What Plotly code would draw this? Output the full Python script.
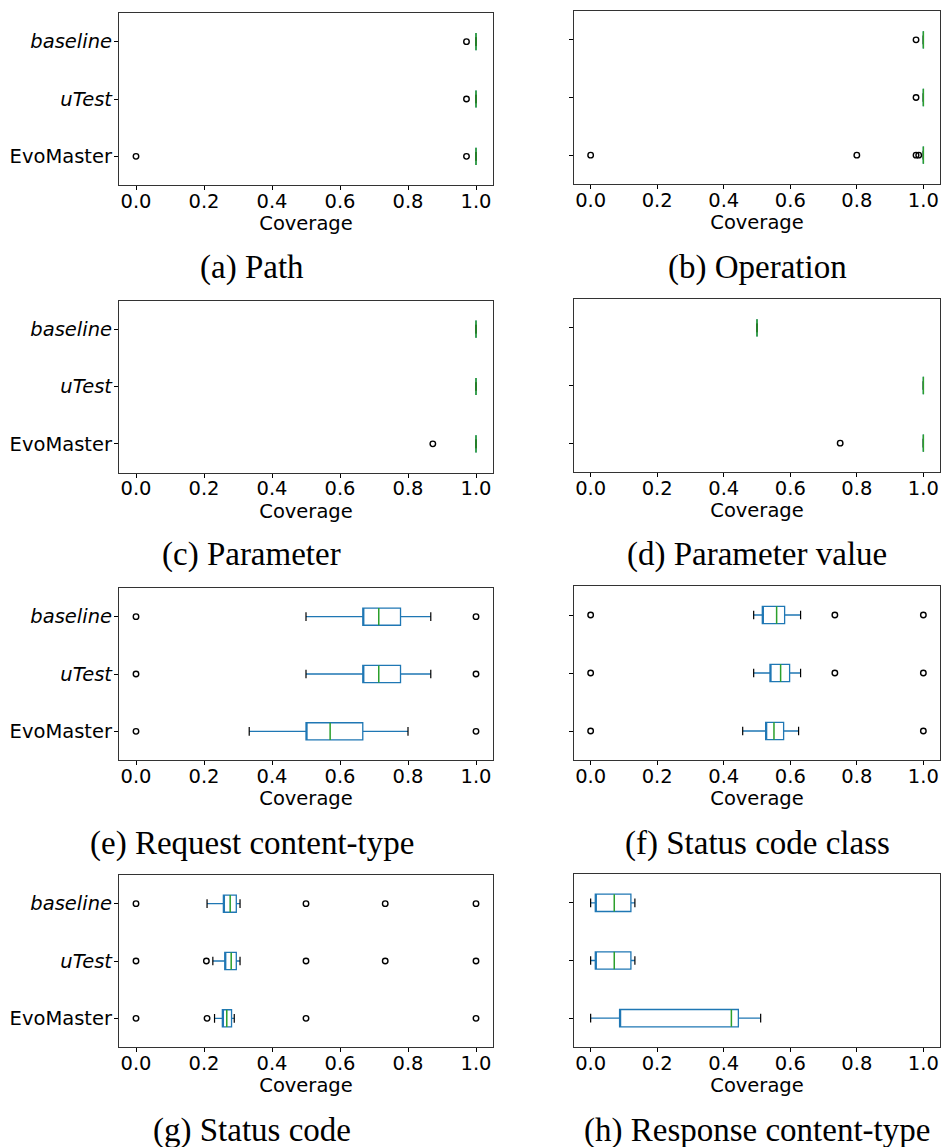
import plotly.graph_objects as go

categories = ["EvoMaster", "uTest", "baseline"]
tick_text = ["EvoMaster", "<i>uTest</i>", "<i>baseline</i>"]
positions = [1, 2, 3]
x_ticks = [0.0, 0.2, 0.4, 0.6, 0.8, 1.0]
x_tick_text = ["0.0", "0.2", "0.4", "0.6", "0.8", "1.0"]

# [low whisker, q1, median, q3, high whisker] for EvoMaster, uTest, baseline
path_box = [[1.0, 1.0, 1.0, 1.0, 1.0], [1.0, 1.0, 1.0, 1.0, 1.0], [1.0, 1.0, 1.0, 1.0, 1.0]]
path_out = [[0.0, 0.972], [0.972], [0.972]]

operation_box = [[1.0, 1.0, 1.0, 1.0, 1.0], [1.0, 1.0, 1.0, 1.0, 1.0], [1.0, 1.0, 1.0, 1.0, 1.0]]
operation_out = [[0.0, 0.80, 0.978, 0.986], [0.978], [0.978]]

parameter_box = [[1.0, 1.0, 1.0, 1.0, 1.0], [1.0, 1.0, 1.0, 1.0, 1.0], [1.0, 1.0, 1.0, 1.0, 1.0]]
parameter_out = [[0.873], [], []]

param_value_box = [[1.0, 1.0, 1.0, 1.0, 1.0], [1.0, 1.0, 1.0, 1.0, 1.0], [0.5, 0.5, 0.5, 0.5, 0.5]]
param_value_out = [[0.75], [], []]

req_ct_box = [[0.333, 0.5, 0.571, 0.667, 0.8],
              [0.5, 0.667, 0.714, 0.778, 0.867],
              [0.5, 0.667, 0.714, 0.778, 0.867]]
req_ct_out = [[0.0, 1.0], [0.0, 1.0], [0.0, 1.0]]

status_class_box = [[0.457, 0.526, 0.551, 0.580, 0.625],
                    [0.490, 0.539, 0.571, 0.598, 0.631],
                    [0.490, 0.516, 0.559, 0.583, 0.631]]
status_class_out = [[0.0, 1.0], [0.0, 0.734, 1.0], [0.0, 0.734, 1.0]]

status_code_box = [[0.231, 0.254, 0.267, 0.281, 0.289],
                   [0.226, 0.261, 0.280, 0.295, 0.306],
                   [0.209, 0.257, 0.277, 0.295, 0.306]]
status_code_out = [[0.0, 0.209, 0.5, 1.0], [0.0, 0.207, 0.5, 0.733, 1.0], [0.0, 0.5, 0.733, 1.0]]

resp_ct_box = [[0.0, 0.087, 0.423, 0.444, 0.511],
               [0.0, 0.014, 0.071, 0.121, 0.133],
               [0.0, 0.014, 0.071, 0.121, 0.133]]
resp_ct_out = [[], [], []]

captions = ["(a) Path", "(b) Operation", "(c) Parameter", "(d) Parameter value",
            "(e) Request content-type", "(f) Status code class",
            "(g) Status code", "(h) Response content-type"]

panels = [(path_box, path_out), (operation_box, operation_out),
          (parameter_box, parameter_out), (param_value_box, param_value_out),
          (req_ct_box, req_ct_out), (status_class_box, status_class_out),
          (status_code_box, status_code_out), (resp_ct_box, resp_ct_out)]

W, H = 941, 1147
left_x = (119, 493)
right_x = (574, 940)
left_rows = [(13, 185), (300.5, 472.5), (588, 760), (875, 1047)]
right_rows = [(11, 184), (299, 472), (586, 760), (874, 1047)]
caption_y = [267, 554.5, 843, 1130]
caption_x = [252, 757]

BLUE = "#1f77b4"
GREEN = "#2ca02c"
TICK_FONT = dict(family="DejaVu Sans", size=19.5, color="black")


def px_x(v):
    return v / W


def px_y(v):
    return 1 - v / H


fig = go.Figure()
layout = dict(width=W, height=H, margin=dict(l=0, r=0, t=0, b=0, pad=0),
              plot_bgcolor="white", paper_bgcolor="white", showlegend=False,
              boxmode="overlay", annotations=[])

for i, (box, out) in enumerate(panels):
    n = i + 1
    col = i % 2
    row = i // 2
    xs = "x" if n == 1 else f"x{n}"
    ys = "y" if n == 1 else f"y{n}"
    lo = [b[0] for b in box]
    q1 = [b[1] for b in box]
    med = [b[2] for b in box]
    q3 = [b[3] for b in box]
    hi = [b[4] for b in box]
    # box body + whiskers
    fig.add_trace(go.Box(y=positions, q1=q1, median=q1, q3=q3, lowerfence=lo, upperfence=hi,
                         orientation="h", width=0.3, whiskerwidth=0, boxpoints=False,
                         line=dict(color=BLUE, width=1.3), fillcolor="rgba(0,0,0,0)",
                         xaxis=xs, yaxis=ys, hoverinfo="skip"))
    # caps (black)
    for fence in (lo, hi):
        fig.add_trace(go.Box(y=positions, q1=fence, median=fence, q3=fence, lowerfence=fence,
                             upperfence=fence, orientation="h", width=0.15, whiskerwidth=0,
                             boxpoints=False, line=dict(color="black", width=1.2),
                             fillcolor="rgba(0,0,0,0)", xaxis=xs, yaxis=ys, hoverinfo="skip"))
    # medians (green)
    fig.add_trace(go.Box(y=positions, q1=med, median=med, q3=med, lowerfence=med, upperfence=med,
                         orientation="h", width=0.3, whiskerwidth=0, boxpoints=False,
                         line=dict(color=GREEN, width=1.5), fillcolor="rgba(0,0,0,0)",
                         xaxis=xs, yaxis=ys, hoverinfo="skip"))
    # fliers
    fx, fy = [], []
    for p, vals in zip(positions, out):
        for v in vals:
            fx.append(v)
            fy.append(p)
    fig.add_trace(go.Scatter(x=fx, y=fy, mode="markers", xaxis=xs, yaxis=ys,
                             marker=dict(symbol="circle-open", size=5.5, color="black",
                                         line=dict(color="black", width=1.4)),
                             hoverinfo="skip"))

    xr = left_x if col == 0 else right_x
    yr = (left_rows if col == 0 else right_rows)[row]
    xkey = "xaxis" if n == 1 else f"xaxis{n}"
    ykey = "yaxis" if n == 1 else f"yaxis{n}"
    layout[xkey] = dict(domain=[px_x(xr[0]), min(1.0, px_x(xr[1]))], anchor=ys,
                        range=[-0.05, 1.05],
                        tickvals=x_ticks, ticktext=x_tick_text, tickfont=TICK_FONT,
                        ticks="outside", ticklen=4, tickwidth=1, tickcolor="black",
                        ticklabelstandoff=-6,
                        showline=True, mirror=True, linecolor="#333333", linewidth=1.2,
                        showgrid=False, zeroline=False,
                        title=dict(text="Coverage", font=TICK_FONT, standoff=2))
    layout[ykey] = dict(domain=[px_y(yr[1]), px_y(yr[0])], anchor=xs, range=[0.5, 3.5],
                        tickvals=positions, ticktext=tick_text, tickfont=TICK_FONT,
                        showticklabels=(col == 0), ticklabelstandoff=-2,
                        ticks="outside", ticklen=4, tickwidth=1, tickcolor="black",
                        showline=True, mirror=True, linecolor="#333333", linewidth=1.2,
                        showgrid=False, zeroline=False)
    layout["annotations"].append(dict(text=captions[i], x=px_x(caption_x[col]),
                                      y=px_y(caption_y[row]), xref="paper", yref="paper",
                                      xanchor="center", yanchor="middle", showarrow=False,
                                      font=dict(family="Liberation Serif", size=33, color="black")))

fig.update_layout(**layout)
fig.write_html("out.html", config={"displayModeBar": False},
               post_script="document.body.style.margin='0';document.body.style.overflow='hidden';")
